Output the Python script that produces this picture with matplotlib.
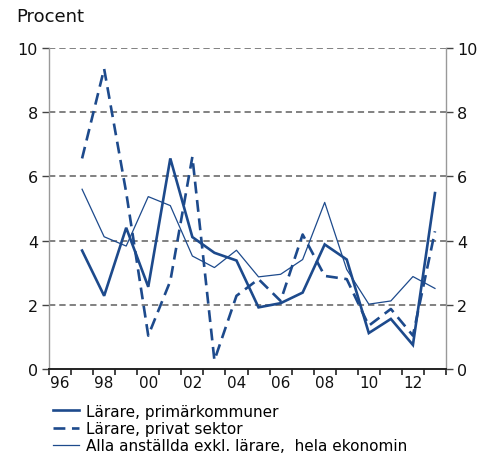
import matplotlib
matplotlib.use("Agg")
import matplotlib.pyplot as plt
from matplotlib.ticker import FixedLocator, FixedFormatter

years = list(range(1997, 2014))
primarkommuner = [3.69, 2.28, 4.40, 2.56, 6.56, 4.11, 3.62, 3.38, 1.92, 2.05, 2.38, 3.88, 3.41, 1.12, 1.56, 0.75, 5.48]
privat_sektor = [6.56, 9.35, 5.5, 1.04, 2.74, 6.61, 0.27, 2.28, 2.80, 2.12, 4.19, 2.90, 2.80, 1.35, 1.87, 1.04, 4.29]
alla_exkl = [5.60, 4.12, 3.83, 5.37, 5.09, 3.52, 3.16, 3.70, 2.87, 2.95, 3.41, 5.19, 3.10, 2.02, 2.12, 2.88, 2.51]

label_years = [1996, 1998, 2000, 2002, 2004, 2006, 2008, 2010, 2012]
label_texts = ["96", "98", "00", "02", "04", "06", "08", "10", "12"]
yticks = [0, 2, 4, 6, 8, 10]
legend_labels = ["Lärare, primärkommuner", "Lärare, privat sektor",
                 "Alla anställda exkl. lärare,  hela ekonomin"]

color = "#1d4a8c"
fs = 11

fig = plt.figure(figsize=(4.86, 4.56), dpi=100)
ax = fig.add_axes([49/486, 86/456, 397/486, 321/456])

l1, = ax.plot(years, primarkommuner, color=color, lw=1.9, solid_joinstyle="miter")
l2, = ax.plot(years, privat_sektor, color=color, lw=1.9, ls=(0, (4.5, 2.5)))
l3, = ax.plot(years, alla_exkl, color=color, lw=0.9)

ax.set_xlim(1995.5, 2013.5)
ax.set_ylim(0, 10)

for v in yticks[1:]:
    ax.axhline(v, color="#777777", lw=1.3, ls=(0, (3.5, 2.2)), zorder=0)

ax.spines["top"].set_visible(False)
ax.spines["left"].set_color("#999999")
ax.spines["right"].set_color("#999999")
ax.spines["left"].set_linewidth(1.0)
ax.spines["right"].set_linewidth(1.0)
ax.spines["bottom"].set_color("#222222")
ax.spines["bottom"].set_linewidth(1.4)

ax.xaxis.set_major_locator(FixedLocator(label_years))
ax.xaxis.set_major_formatter(FixedFormatter(label_texts))
bounds = [y - 0.5 for y in range(1996, 2015)]
ax.xaxis.set_minor_locator(FixedLocator(bounds))
ax.tick_params(axis="x", which="major", length=0, labelsize=fs, pad=4, colors="#111111")
ax.tick_params(axis="x", which="minor", length=4, width=1.2, direction="out", color="#222222")

ax.set_yticks(yticks)
ax.tick_params(axis="y", which="major", length=5, width=1.0, direction="out", color="#444444",
               labelsize=fs + 0.5, left=True, right=True, labelleft=True, labelright=True, pad=3,
               labelcolor="#111111")

fig.text(16/486, 1 - 17/456, "Procent", fontsize=13, va="center", ha="left", color="#111111")

leg = fig.legend([l1, l2, l3], legend_labels, loc="upper left",
                 bbox_to_anchor=(45/486, 1 - 397/456), frameon=False, fontsize=fs,
                 handlelength=1.7, handletextpad=0.5, labelspacing=0.15, borderpad=0)

fig.savefig("out.png", dpi=100)
